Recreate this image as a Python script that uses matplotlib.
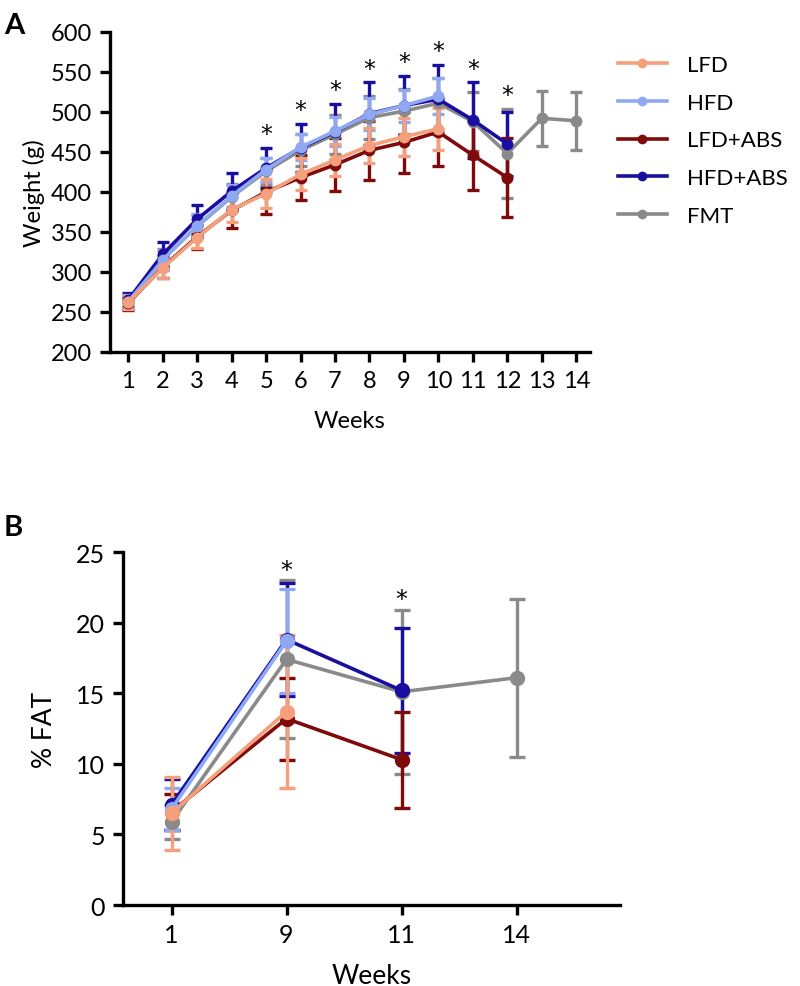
import matplotlib.pyplot as plt
from matplotlib.lines import Line2D
import numpy as np

plt.rcParams['font.family'] = ['Lato', 'DejaVu Sans']

# Panel A: body weight (g) by week
weeks = np.arange(1, 15)
lfd = [262, 305, 343, 378, 398, 422, 440, 458, 469, 479]
lfd_err = [8, 12, 13, 16, 18, 20, 20, 22, 24, 26]
hfd = [263, 315, 358, 395, 428, 456, 476, 497, 508, 520]
hfd_err = [8, 13, 14, 14, 15, 16, 18, 20, 20, 22]
lfd_abs = [261, 306, 344, 377, 400, 418, 434, 452, 462, 475, 446, 418]
lfd_abs_err = [8, 14, 15, 22, 27, 28, 33, 37, 38, 42, 43, 49]
hfd_abs = [265, 322, 366, 401, 430, 455, 475, 498, 508, 516, 490, 460]
hfd_abs_err = [9, 15, 18, 23, 25, 30, 35, 39, 37, 43, 47, 40]
fmt = [262, 316, 357, 394, 426, 452, 472, 493, 501, 511, 488, 448, 492, 489]
fmt_err = [8, 13, 14, 16, 17, 20, 24, 27, 28, 32, 37, 56, 34, 36]
star_weeks_a = [5, 6, 7, 8, 9, 10, 11, 12]

# Panel B: % fat at selected weeks
fat_weeks = ['1', '9', '11', '14']
fat_lfd = [6.5, 13.7]
fat_lfd_err = [2.6, 5.4]
fat_hfd = [6.8, 18.7]
fat_hfd_err = [1.5, 3.7]
fat_lfd_abs = [6.6, 13.2, 10.3]
fat_lfd_abs_err = [1.3, 2.9, 3.4]
fat_hfd_abs = [7.1, 18.8, 15.2]
fat_hfd_abs_err = [1.8, 4.0, 4.4]
fat_fmt = [5.9, 17.4, 15.1, 16.1]
fat_fmt_err = [1.2, 5.6, 5.8, 5.6]
star_weeks_b = [1, 2]  # positions of '9' and '11'

colors = {'LFD': '#f4a07c', 'HFD': '#8fa8f2', 'LFD+ABS': '#7f0a0a',
          'HFD+ABS': '#1a0ea0', 'FMT': '#8a8a8a'}

fig = plt.figure(figsize=(8, 9.87), dpi=100)
axA = fig.add_axes([0.1375, 0.6424, 0.6, 0.3242])
axB = fig.add_axes([0.154, 0.082, 0.621, 0.3577])

seriesA = [('FMT', fmt, fmt_err), ('HFD+ABS', hfd_abs, hfd_abs_err),
           ('LFD+ABS', lfd_abs, lfd_abs_err), ('HFD', hfd, hfd_err),
           ('LFD', lfd, lfd_err)]
for name, y, e in seriesA:
    x = weeks[:len(y)]
    axA.errorbar(x, y, yerr=e, fmt='-o', color=colors[name], lw=2.6,
                 ms=7.5, capsize=4.5, capthick=2.4, elinewidth=2.4)

for w in star_weeks_a:
    top = max(s[1][w - 1] + s[2][w - 1] for s in seriesA if len(s[1]) >= w)
    axA.text(w, top + 2, '*', ha='center', va='bottom', fontsize=17,
             family='DejaVu Sans')

axA.set_xlim(0.47, 14.4)
axA.set_ylim(200, 600)
axA.set_xticks(weeks)
axA.set_yticks(range(200, 601, 50))
axA.set_xlabel('Weeks', fontsize=17, labelpad=14)
axA.set_ylabel('Weight (g)', fontsize=17, labelpad=4)

order = ['LFD', 'HFD', 'LFD+ABS', 'HFD+ABS', 'FMT']
leg_handles = [Line2D([], [], color=colors[n], lw=2.6, marker='o', ms=6)
               for n in order]
axA.legend(leg_handles, order, loc='upper left',
           bbox_to_anchor=(1.03, 0.97), frameon=False, fontsize=16,
           handlelength=2.2, labelspacing=0.8, handletextpad=0.9,
           borderaxespad=0.2)

seriesB = [('FMT', fat_fmt, fat_fmt_err), ('HFD+ABS', fat_hfd_abs, fat_hfd_abs_err),
           ('LFD+ABS', fat_lfd_abs, fat_lfd_abs_err), ('HFD', fat_hfd, fat_hfd_err),
           ('LFD', fat_lfd, fat_lfd_err)]
posB = np.arange(len(fat_weeks))
for name, y, e in seriesB:
    axB.errorbar(posB[:len(y)], y, yerr=e, fmt='-o', color=colors[name], lw=2.6,
                 ms=10, capsize=6, capthick=2.4, elinewidth=2.4)

for p in star_weeks_b:
    top = max(s[1][p] + s[2][p] for s in seriesB if len(s[1]) > p)
    axB.text(p, top - 0.1, '*', ha='center', va='bottom', fontsize=17,
             family='DejaVu Sans')

axB.set_xlim(-0.42, 3.9)
axB.set_ylim(0, 25)
axB.set_xticks(posB)
axB.set_xticklabels(fat_weeks)
axB.set_yticks(range(0, 26, 5))
axB.set_xlabel('Weeks', fontsize=19, labelpad=12)
axB.set_ylabel('% FAT', fontsize=19, labelpad=14)

for ax in (axA, axB):
    for s in ('top', 'right'):
        ax.spines[s].set_visible(False)
    for s in ('left', 'bottom'):
        ax.spines[s].set_linewidth(2.4)
    ax.tick_params(width=2.4, length=7, direction='out', pad=6)
axA.tick_params(labelsize=17)
axB.tick_params(labelsize=18)

fig.text(0.005, 0.987, 'A', fontsize=21, fontweight='bold', va='top')
fig.text(0.005, 0.478, 'B', fontsize=21, fontweight='bold', va='top')

fig.savefig('out.png', dpi=100)
